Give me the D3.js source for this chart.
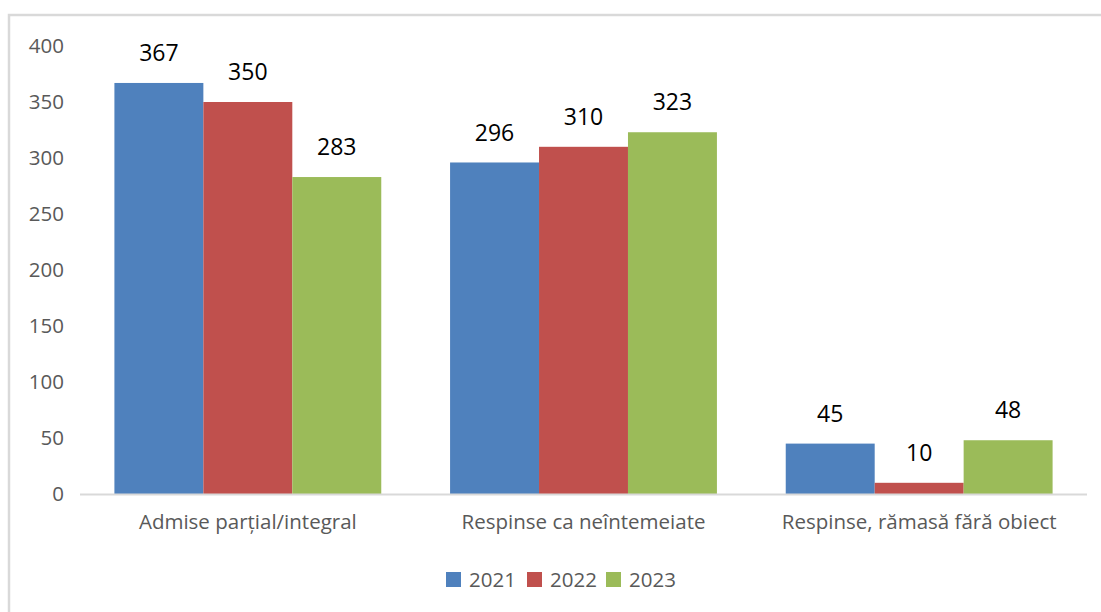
<!DOCTYPE html>
<html><head><meta charset="utf-8">
<script src="https://cdn.jsdelivr.net/npm/d3@7"></script>
<style>body{margin:0;background:#fff;} svg{display:block;}</style>
</head><body>
<svg id="c" width="1101" height="612"></svg>
<script>
const categories = ["Admise parțial/integral", "Respinse ca neîntemeiate", "Respinse, rămasă fără obiect"];
const years = ["2021", "2022", "2023"];
const values2021 = [367, 296, 45];
const values2022 = [350, 310, 10];
const values2023 = [283, 323, 48];
const yTicks = [0, 50, 100, 150, 200, 250, 300, 350, 400];
const colors = ["#4F81BD", "#C0504D", "#9BBB59"];

const series = [values2021, values2022, values2023];
const svg = d3.select("#c");
const font = "'Open Sans', sans-serif";

// frame
svg.append("rect").attr("x", 9).attr("y", 15).attr("width", 1200).attr("height", 700)
  .attr("fill", "none").attr("stroke", "#d9d9d9").attr("stroke-width", 2.5);

const x0 = d3.scaleBand().domain(categories).range([80, 1087]).paddingInner(0.205).paddingOuter(0.1025);
const x1 = d3.scaleBand().domain(years).range([0, x0.bandwidth()]);
const y = d3.scaleLinear().domain([0, 400]).range([494, 46]);

// y axis labels
const ya = svg.append("g").attr("transform", "translate(64,0)")
  .call(d3.axisLeft(y).tickValues(yTicks).tickSize(0).tickPadding(0));
ya.select(".domain").remove();
ya.selectAll("text").attr("font-family", font).attr("font-size", 20.5).attr("fill", "#595959");

// bars
categories.forEach((c, ci) => {
  years.forEach((yr, si) => {
    const v = series[si][ci];
    svg.append("rect")
      .attr("x", x0(c) + x1(yr)).attr("width", x1.bandwidth())
      .attr("y", y(v)).attr("height", y(0) - y(v))
      .attr("fill", colors[si]);
    svg.append("text")
      .attr("x", x0(c) + x1(yr) + x1.bandwidth() / 2)
      .attr("y", y(v) - 30).attr("dy", "0.35em")
      .attr("text-anchor", "middle")
      .attr("font-family", font).attr("font-size", 23).attr("fill", "#000")
      .text(v);
  });
});

// x axis
const xa = svg.append("g").attr("transform", "translate(0,494)")
  .call(d3.axisBottom(x0).tickSize(0).tickPadding(20).tickSizeOuter(0));
xa.select(".domain").attr("d", "M80,0.5H1087").attr("stroke", "#d9d9d9").attr("stroke-width", 2);
xa.selectAll("text").attr("font-family", font).attr("font-size", 20.5).attr("fill", "#595959");

// legend
const legX = [446, 527, 606];
years.forEach((yr, i) => {
  const g = svg.append("g").attr("transform", `translate(${legX[i]},572)`);
  g.append("rect").attr("width", 15).attr("height", 15).attr("fill", colors[i]);
  g.append("text").attr("x", 23).attr("y", 8).attr("dy", "0.35em")
    .attr("font-family", font).attr("font-size", 20.5).attr("fill", "#595959").text(yr);
});
</script>
</body></html>
